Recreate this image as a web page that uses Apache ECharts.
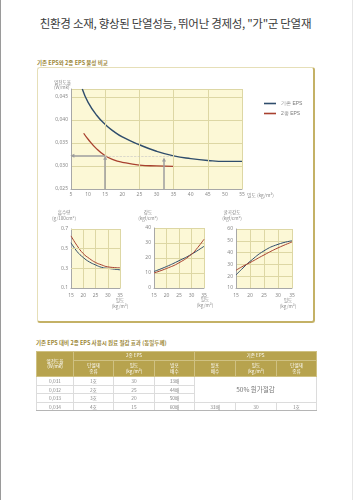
<!DOCTYPE html>
<html><head><meta charset="utf-8">
<script src="https://cdn.jsdelivr.net/npm/echarts@6/dist/echarts.min.js"></script>
<style>
html,body{margin:0;padding:0;background:#fff;}
body{width:363px;height:500px;position:relative;overflow:hidden;font-family:"Noto Sans CJK KR","Noto Sans",sans-serif;}
#edgeL{position:absolute;left:0;top:0;width:1px;height:500px;background:#9a9a9a;}
#edgeR{position:absolute;left:352px;top:0;width:1px;height:500px;background:#e6e6e6;}
#title{position:absolute;left:0;width:351px;top:15px;text-align:center;font-size:11.5px;color:#3a3a3a;letter-spacing:-0.3px;white-space:nowrap;}
.sec{position:absolute;font-size:5.5px;color:#9c8838;font-weight:bold;white-space:nowrap;}
#box{position:absolute;left:37px;top:67px;width:275px;height:253px;border:1px solid #e6dfb8;border-right:2px solid #c4b166;border-bottom:2px solid #c4b166;border-radius:3px;}
#chart{position:absolute;left:0;top:0;width:363px;height:500px;z-index:2;}
#tbl{position:absolute;left:36px;top:351px;border-collapse:collapse;table-layout:fixed;width:280px;z-index:3;}
#tbl th{background:#b7a34e;color:#fff;font-weight:normal;font-size:4.6px;line-height:5.5px;padding:0;text-align:center;border:0.5px solid #cfc182;}
#tbl tr.h1 th{height:8px;}
#tbl tr.h2 th{height:15px;}
#tbl td{font-size:4.8px;color:#8a8a8a;text-align:center;padding:0;height:7.6px;line-height:7px;border:0.5px solid #dcdcdc;}
#tbl tr.last td{border-bottom:1.2px solid #b5b5b5;}
#tbl td.big{font-size:6.5px;color:#777;}
</style></head>
<body>
<div id="edgeL"></div><div id="edgeR"></div>
<div id="title">친환경 소재, 향상된 단열성능, 뛰어난 경제성, "가"군 단열재</div>
<div class="sec" style="left:37px;top:59px;">기존 EPS와 2종 EPS 물성 비교</div>
<div id="box"></div>
<div class="sec" style="left:36px;top:339px;">기존 EPS 대비 2종 EPS 사용시 원료 절감 효과 (동일두께)</div>
<table id="tbl"></table>
<div id="chart"></div>
<script>
// ---------- data ----------
const seriesNames = ['기존 EPS', '2종 EPS'];
// thermal conductivity vs density
const kBasic = [[8.3,0.0467],[10,0.0438],[12.5,0.0410],[15,0.0390],[17.5,0.0375],[20,0.0363],[25,0.0346],[30,0.0332],[35,0.0322],[40,0.0316],[45,0.0312],[50,0.0310],[55,0.0310]];
const kType2 = [[8.7,0.0371],[10,0.0358],[12.5,0.0337],[15,0.0322],[17.5,0.0313],[20,0.0308],[25,0.0302],[30,0.0300],[35,0.0299]];
const kRefValue = 0.0322;
const kArrowDensities = [15, 32.2];
const kArrowTops = [0.0318, 0.0314];
const mainGridX = [15, 25, 35, 45, 55];
// water absorption
const absBasic = [[15,0.56],[17.5,0.47],[20,0.41],[22.5,0.365],[25,0.335],[27.5,0.31],[30,0.30],[35,0.285]];
const absType2 = [[15,0.63],[17.5,0.53],[20,0.45],[22.5,0.40],[25,0.36],[27.5,0.335],[30,0.315],[35,0.305]];
const absGridY = [0.3, 0.5, 0.7];
// strength
const strBasic = [[15,11],[20,14.3],[25,18.2],[30,22.5],[35,27.8]];
const strType2 = [[15,10],[20,13],[25,16.8],[30,22.5],[32.5,27],[35,32.5]];
// flexural strength
const flxBasic = [[15,21],[17.5,27],[20,32.5],[25,41.5],[30,47],[35,50]];
const flxType2 = [[15,25],[17.5,28.5],[20,31.5],[25,38],[30,44],[35,49]];
// table
const tblK = ['0,031','0,032','0,033','0,034'];
const tblType2Grade = ['1호','2호','3호','4호'];
const tblType2Density = ['30','25','20','15'];
const tblType2Expansion = ['33배','44배','50배','60배'];
const tblBasicRow = ['33배','30','1호'];
const tblSaving = '50% 원가절감';

// ---------- table ----------
(function(){
  let h = '<colgroup>' + [37,40,41,40,41,41,40].map(w=>'<col style="width:'+w+'px">').join('') + '</colgroup>';
  h += '<tr class="h1"><th rowspan="2">열전도율<br>(W/mk)</th><th colspan="3">2종 EPS</th><th colspan="3">기존 EPS</th></tr>';
  h += '<tr class="h2"><th>단열재<br>종류</th><th>밀도<br>(kg/m³)</th><th>발포<br>배수</th><th>발포<br>배수</th><th>밀도<br>(kg/m³)</th><th>단열재<br>종류</th></tr>';
  for (let i=0;i<tblK.length;i++){
    h += '<tr'+(i===tblK.length-1?' class="last"':'')+'><td>'+tblK[i]+'</td><td>'+tblType2Grade[i]+'</td><td>'+tblType2Density[i]+'</td><td>'+tblType2Expansion[i]+'</td>';
    if (i===0) h += '<td colspan="3" rowspan="3" class="big">'+tblSaving+'</td>';
    if (i===tblK.length-1) h += tblBasicRow.map(v=>'<td>'+v+'</td>').join('');
    h += '</tr>';
  }
  document.getElementById('tbl').innerHTML = h;
})();

// ---------- chart ----------
const BLUE = '#2f4d6c', RED = '#a8412f';
const BG = '#fcf8d6', GRIDC = '#ddd7a4', AXC = '#a8a8a8', LBL = '#8a8a8a';
const chart = echarts.init(document.getElementById('chart'), null, {renderer:'canvas'});

const grids = [
  {left:71, top:89, width:171, height:100},
  {left:71, top:229, width:49, height:59},
  {left:154, top:228, width:50, height:60},
  {left:236, top:229, width:56, height:59}
].map(g => Object.assign({show:true, backgroundColor:BG, borderWidth:0}, g));

function xAx(i, min, max, interval, split){
  return {type:'value', gridIndex:i, min, max, interval,
    axisLine:{show:true, lineStyle:{color:AXC, width:1}}, axisTick:{show:false},
    axisLabel:{fontSize:5, color:LBL, margin: i===0?3:5, fontFamily:'Noto Sans'},
    splitLine:{show:split, lineStyle:{color:GRIDC, width:1}}};
}
function yAx(i, min, max, interval, fmt, split, extra){
  return Object.assign({type:'value', gridIndex:i, min, max, interval,
    axisLine:{show:true, lineStyle:{color:AXC, width:1}}, axisTick:{show:false},
    axisLabel:{fontSize:5, color:LBL, margin:3, formatter:fmt, fontFamily:'Noto Sans'},
    splitLine:{show:split, lineStyle:{color:GRIDC, width:1}}}, extra||{});
}

const gridLineStyle = {color:GRIDC, width:1, type:'solid'};
function line(name, data, color, xi, w){
  return {name, type:'line', xAxisIndex:xi, yAxisIndex:xi, data, smooth:true, showSymbol:false, symbol:'none',
    lineStyle:{color, width:w}, itemStyle:{color}, z:3, silent:true};
}

const option = {
  animation:false,
  grid: grids,
  xAxis: [
    xAx(0, 5, 55, 5, false),
    xAx(1, 15, 35, 5, true),
    xAx(2, 15, 35, 5, true),
    xAx(3, 15, 35, 5, true)
  ],
  yAxis: [
    yAx(0, 0.025, 0.0467, 0.005, v => (Math.abs(v/0.005 - Math.round(v/0.005))<1e-6) ? v.toFixed(3).replace('.',',') : '', true,
        {}),
    yAx(1, 0.1, 0.7, 0.1, v => {const t=Math.round(v*10); return (t%2===1)? (t/10).toFixed(1) : '';}, false),
    yAx(2, 0, 40, 10, v => v, true),
    yAx(3, 10, 60, 10, v => v, true)
  ],
  legend: {orient:'vertical', left:259, top:96, itemWidth:12, itemHeight:1.6, itemGap:5, icon:'rect',
    data: seriesNames, textStyle:{fontSize:5, color:'#7a7a7a'}, selectedMode:false},
  series: [
    // grid helpers
    {type:'line', xAxisIndex:0, yAxisIndex:0, data:[], z:1, silent:true,
      markLine:{silent:true, symbol:'none', animation:false, label:{show:false}, lineStyle:gridLineStyle,
        data: mainGridX.map(v=>({xAxis:v}))}},
    {type:'line', xAxisIndex:1, yAxisIndex:1, data:[], z:1, silent:true,
      markLine:{silent:true, symbol:'none', animation:false, label:{show:false}, lineStyle:gridLineStyle,
        data: absGridY.map(v=>({yAxis:v}))}},
    // main
    line(seriesNames[0], kBasic, BLUE, 0, 1.4),
    line(seriesNames[1], kType2, RED, 0, 1.3),
    // arrows
    {type:'line', xAxisIndex:0, yAxisIndex:0, data:[], z:2, silent:true,
      markLine:{silent:true, animation:false, symbol:['none','triangle'], symbolSize:[4,4], label:{show:false},
        lineStyle:{color:'#9e9e9e', width:1.5, type:'solid'},
        data:[
          [{coord:[kArrowDensities[0], kRefValue]}, {coord:[5.4, kRefValue]}],
          [{coord:[kArrowDensities[0], 0.025]}, {coord:[kArrowDensities[0], kArrowTops[0]]}],
          [{coord:[kArrowDensities[1], 0.025]}, {coord:[kArrowDensities[1], kArrowTops[1]]}],
          [{coord:[kArrowDensities[0], kRefValue], symbol:'none', lineStyle:{type:'dashed', width:0.6, color:'#c4c4c4'}},
           {coord:[35, kRefValue], symbol:'none'}]
        ]}},
    line(seriesNames[0], absBasic, BLUE, 1, 1),
    line(seriesNames[1], absType2, RED, 1, 1),
    line(seriesNames[0], strBasic, BLUE, 2, 1),
    line(seriesNames[1], strType2, RED, 2, 1),
    line(seriesNames[0], flxBasic, BLUE, 3, 1),
    line(seriesNames[1], flxType2, RED, 3, 1)
  ],
  graphic: [
    {type:'text', left:54, top:79, style:{text:'열전도율\n(W/mk)', fontSize:4.6, lineHeight:5.6, fill:LBL, fontFamily:'Noto Sans CJK KR'}},
    {type:'text', left:247, top:192.5, style:{text:'밀도 (kg/m³)', fontSize:4.8, fill:LBL, fontFamily:'Noto Sans CJK KR'}},
    {type:'text', x:64, y:210, style:{text:'흡수량\n(g/100cm²)', fontSize:4.6, lineHeight:5.4, fill:LBL, align:'center', fontFamily:'Noto Sans CJK KR'}},
    {type:'text', x:148, y:210, style:{text:'강도\n(kgf/cm²)', fontSize:4.6, lineHeight:5.4, fill:LBL, align:'center', fontFamily:'Noto Sans CJK KR'}},
    {type:'text', x:232, y:210, style:{text:'굴곡강도\n(kgf/cm²)', fontSize:4.6, lineHeight:5.4, fill:LBL, align:'center', fontFamily:'Noto Sans CJK KR'}},
    {type:'text', x:120, y:298, style:{text:'밀도\n(kg/m³)', fontSize:4.6, lineHeight:5.2, fill:LBL, align:'center', fontFamily:'Noto Sans CJK KR'}},
    {type:'text', x:205, y:297, style:{text:'밀도\n(kg/m³)', fontSize:4.6, lineHeight:5.2, fill:LBL, align:'center', fontFamily:'Noto Sans CJK KR'}},
    {type:'text', x:288, y:298, style:{text:'밀도\n(kg/m³)', fontSize:4.6, lineHeight:5.2, fill:LBL, align:'center', fontFamily:'Noto Sans CJK KR'}}
  ]
};
chart.setOption(option);
</script>
</body></html>
